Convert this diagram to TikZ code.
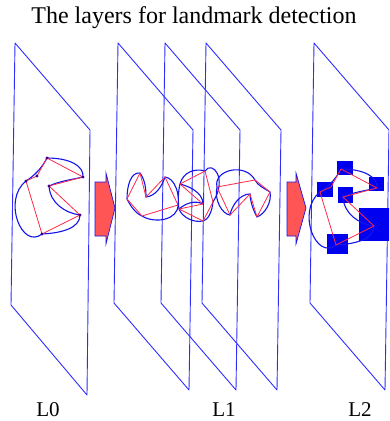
\documentclass[tikz,border=0pt]{standalone}
\usepackage{fontspec}
\setmainfont{Liberation Serif}
\definecolor{planeblue}{RGB}{45,45,255}
\definecolor{curveblue}{RGB}{20,20,235}
\definecolor{ctrlred}{RGB}{255,40,70}
\definecolor{arrowred}{RGB}{255,85,85}
\definecolor{dotblue}{RGB}{60,0,140}
\definecolor{boxblue}{RGB}{0,0,240}
\begin{document}
\begin{tikzpicture}[x=1pt,y=-1pt,
  plane/.style={draw=planeblue,line width=0.9pt,line join=round},
  outline/.style={draw=curveblue,line width=1.1pt},
  ctrlpoly/.style={draw=ctrlred,line width=0.8pt,line join=round},
  vdot/.style={fill=dotblue},
  lmbox/.style={fill=boxblue},
  flowarrow/.style={fill=arrowred,draw=curveblue,line width=0.7pt,line join=miter},
  caption/.style={font=\fontsize{24}{28}\selectfont,inner sep=0pt},
  layername/.style={font=\fontsize{21}{24}\selectfont,inner sep=0pt},
  landmark shape/.pic={
    \draw[outline] (47,158) .. controls (70,158) and (84,166) .. (83,177)
      .. controls (70,180) and (60,181) .. (49,186)
      .. controls (50,203) and (65,213) .. (80,215)
      .. controls (80,228) and (62,233) .. (42,234)
      .. controls (22,250) and (2,200) .. (26,181)
      .. controls (34,176) and (42,168) .. (47,158);
    \draw[ctrlpoly] (47,158) -- (83,177) -- (49,186) -- (80,215) -- (42,234)
      -- (26,181) -- (37,176) -- cycle;
  }]
\useasboundingbox (0,0) rectangle (389,421);
\clip (0,0) rectangle (389,421);

% title
\node[caption,anchor=base] (title) at (194,23) {The layers for landmark detection};

% layer planes
\draw[plane] (15,43) -- (90,130) -- (87,395) -- (11,305) -- cycle;
\draw[plane] (118,43) -- (193,130) -- (189,390) -- (114,303) -- cycle;
\draw[plane] (165,43) -- (240,130) -- (236,390) -- (161,303) -- cycle;
\draw[plane] (206,43) -- (281,130) -- (277,390) -- (202,303) -- cycle;
\draw[plane] (314,43) -- (389,130) -- (385,390) -- (310,303) -- cycle;

% L0: outline with its control points
\pic at (0,0) {landmark shape};
\foreach \p in {(47,158),(83,177),(49,186),(80,215),(42,234),(26,181),(37,176)}
  \fill[vdot] \p circle (1.6);

% L1: three deformed copies
% first
\draw[outline] (127,199) .. controls (127,185) and (131,172) .. (140,173)
  .. controls (145,180) and (146,188) .. (146,197)
  .. controls (156,196) and (162,186) .. (165,177)
  .. controls (175,178) and (180,195) .. (178,205)
  .. controls (178,220) and (155,224) .. (142,216)
  .. controls (135,213) and (130,205) .. (127,199);
\draw[ctrlpoly] (140,173) -- (146,197) -- (165,177) -- (178,205) -- (142,216)
  -- (127,199) -- cycle;
% second
\draw[outline] (180,184) .. controls (183,172) and (195,168) .. (205,171)
  .. controls (212,160) and (228,178) .. (213,202)
  .. controls (212,212) and (208,220) .. (203,221)
  .. controls (193,223) and (182,217) .. (179,209)
  .. controls (186,203) and (195,200) .. (203,204)
  .. controls (203,192) and (188,186) .. (180,184);
\draw[outline] (180,184) .. controls (178,192) and (178,202) .. (179,209);
\draw[ctrlpoly] (180,184) -- (205,171) -- (213,202) -- (203,221) -- (179,209)
  -- (203,204) -- cycle;
% third
\draw[outline] (217,187) .. controls (213,170) and (245,162) .. (255,180)
  .. controls (258,186) and (264,188) .. (270,192)
  .. controls (272,202) and (265,214) .. (257,217)
  .. controls (253,210) and (250,200) .. (250,194)
  .. controls (240,194) and (232,205) .. (230,215)
  .. controls (222,214) and (214,200) .. (217,187);
\draw[ctrlpoly] (217,187) -- (255,180) -- (270,192) -- (257,217) -- (250,194)
  -- (230,215) -- cycle;

% L2: landmark boxes under the outline
\fill[lmbox] (337,161) rectangle (353,175);
\fill[lmbox] (317,182) rectangle (333,197);
\fill[lmbox] (338,187) rectangle (353,203);
\fill[lmbox] (369,177) rectangle (384,191);
\fill[lmbox] (359,208) rectangle (392,241);
\fill[lmbox] (327,234) rectangle (348,254);
\pic at (294,11) {landmark shape};

% arrows between layers
\draw[flowarrow] (95,182) -- (106,182) -- (106,173) -- (115,208) -- (106,244)
  -- (106,236) -- (95,236) -- cycle;
\draw[flowarrow] (287,182) -- (296,182) -- (296,173) -- (306,208) -- (296,244)
  -- (296,236) -- (287,236) -- cycle;

% layer names
\node[layername] (lzero) at (48,410) {L0};
\node[layername] (lone) at (224,410) {L1};
\node[layername] (ltwo) at (360,410) {L2};
\end{tikzpicture}
\end{document}
